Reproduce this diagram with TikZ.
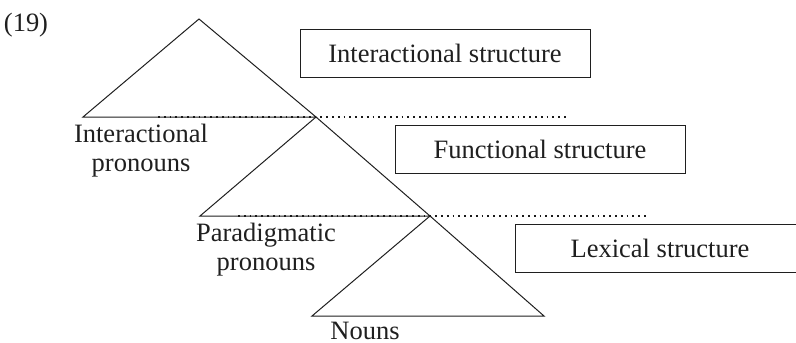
\documentclass[tikz,border=0pt]{standalone}
\usepackage{fontspec}
\setmainfont{Liberation Serif}
\begin{document}
\begin{tikzpicture}[x=1pt,y=-1pt,
  line width=1pt, draw=black!88,
  lbl/.style={font=\fontsize{26.5}{29}\selectfont, align=center, inner sep=0pt, text=black!88},
  structbox/.style={draw, line width=1pt, minimum width=290pt, minimum height=48pt, inner sep=0pt, font=\fontsize{26.5}{29}\selectfont, text=black!88},
  dotline/.style={line width=1.1pt, dash pattern=on 1.8pt off 4pt, draw=black!90}]
\useasboundingbox (0,0) rectangle (796,343);
% vertices
\coordinate (a1) at (199,19);
\coordinate (l1) at (83,117);
\coordinate (r1) at (316,117);
\coordinate (l2) at (200,216);
\coordinate (r2) at (430,216);
\coordinate (l3) at (312,316);
\coordinate (r3) at (544,316);
\coordinate (d1s) at (158,117);
\coordinate (d1e) at (569,117);
\coordinate (d2s) at (238,216);
\coordinate (d2e) at (648,216);
% triangles
\draw (a1) -- (l1) -- (r1) -- cycle;
\draw (r1) -- (l2) -- (r2) -- cycle;
\draw (r2) -- (l3) -- (r3) -- cycle;
% dotted levels
\draw[dotline] (d1s) -- (d1e);
\draw[dotline] (d2s) -- (d2e);
% boxes
\node[structbox] (b1) at (445,53) {Interactional structure};
\node[structbox] (b2) at (540,149.5) {Functional structure};
\node[structbox] (b3) at (660,248) {Lexical structure};
% labels
\node[lbl] (ex) at (26,25) {(19)};
\node[lbl] (ip) at (141,151) {Interactional\\pronouns};
\node[lbl] (pp) at (266,250) {Paradigmatic\\pronouns};
\node[lbl] (nn) at (365,330.5) {Nouns};
\end{tikzpicture}
\end{document}
